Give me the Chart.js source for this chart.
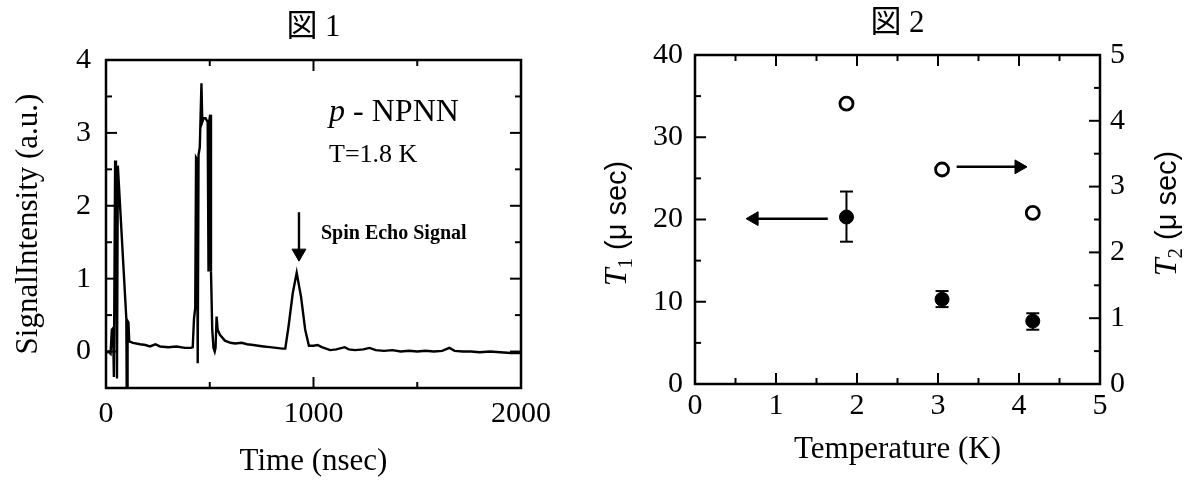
<!DOCTYPE html>
<html lang="ja">
<head>
<meta charset="utf-8">
<title>図1 図2</title>
<script src="https://cdn.jsdelivr.net/npm/chart.js@4.4.1/dist/chart.umd.min.js"></script>
<style>
  html, body { margin: 0; padding: 0; background: #fff; }
  #wrap { position: relative; width: 1196px; height: 482px; overflow: hidden; }
  canvas { position: absolute; top: 0; }
  #c1 { left: 0; }
  #c2 { left: 598px; }
</style>
</head>
<body>
<div id="wrap">
  <canvas id="c1" width="598" height="482"></canvas>
  <canvas id="c2" width="598" height="482"></canvas>
</div>
<script>
// --- 図1: spin echo trace (p-NPNN, T=1.8 K) ---
const timeNs = [0, 12, 22, 28, 34, 38, 44, 48, 53, 57, 60, 98, 100, 102, 104, 108, 112, 130, 164, 190, 212, 238, 260, 300, 340, 380, 410,
  418, 424, 430, 434, 438, 442, 446, 452, 460, 464, 470, 480, 490, 494, 497, 502, 506, 512, 518, 524, 528, 533, 538, 549, 573,
  600, 622, 654, 680, 710, 734, 760, 790, 820, 850, 864, 880, 900, 919, 940, 960, 978, 1000, 1020, 1040, 1080, 1110, 1150, 1170,
  1200, 1240, 1270, 1300, 1340, 1380, 1420, 1460, 1500, 1540, 1580, 1620, 1655, 1680, 1720, 1760, 1800, 1850, 1900, 1950, 2000];
const signal = [-0.02, 0.0, -0.03, 0.3, 0.32, -0.35, 2.62, 2.5, -0.37, 2.55, 2.4, 0.45, -0.7, -0.7, 0.42, 0.4, 0.14, 0.12, 0.1, 0.09, 0.07, 0.1, 0.07, 0.06, 0.07, 0.05, 0.05,
  0.06, 0.45, 0.6, 2.66, 2.64, -0.16, 2.7, 2.8, 3.68, 3.15, 3.2, 3.2, 3.15, 1.1, 3.15, 3.25, 1.1, 0.3, 0.05, 0.0, 0.05, 0.48, 0.3, 0.23, 0.15,
  0.12, 0.11, 0.12, 0.1, 0.09, 0.08, 0.07, 0.06, 0.05, 0.04, 0.04, 0.35, 0.8, 1.08, 0.75, 0.3, 0.08, 0.08, 0.09, 0.06, 0.02, 0.03, 0.06, 0.03,
  0.02, 0.03, 0.05, 0.02, 0.01, 0.02, 0.0, 0.01, 0.0, 0.01, 0.0, 0.01, 0.05, 0.01, 0.0, 0.0, -0.01, 0.0, -0.01, -0.02, -0.02];
// arrow pointing at the echo
const echoArrowT = [930, 930];
const echoArrowV = [1.91, 1.35];

// --- 図2: T1 / T2 vs temperature ---
const tempK = [1.87, 3.05, 4.17];
const t1 = [20.3, 10.3, 7.65];
const t1Lo = [17.3, 9.35, 6.6];
const t1Hi = [23.4, 11.3, 8.6];
const t2 = [4.26, 3.26, 2.6];
const leftArrowT = [1.64, 0.73];
const leftArrowY = [20.1, 20.1];
const rightArrowT = [3.23, 4.0];
const rightArrowY = [26.4, 26.4];

const SERIF = "'Liberation Serif', 'Noto Sans CJK JP', serif";
const SANS = "'Liberation Sans', sans-serif";
Chart.defaults.font.family = SERIF;
Chart.defaults.color = '#000';

// texte composé (italique, indice...) éventuellement tourné
function drawParts(ctx, x, y, parts, rot, align){
  ctx.save();
  ctx.translate(x, y);
  ctx.rotate(rot || 0);
  let w = 0;
  parts.forEach(p => { ctx.font = p.font; w += ctx.measureText(p.text).width; });
  let cx = align === 'left' ? 0 : -w / 2;
  ctx.textBaseline = 'middle';
  ctx.textAlign = 'left';
  ctx.fillStyle = '#000';
  parts.forEach(p => {
    ctx.font = p.font;
    ctx.fillText(p.text, cx, p.dy || 0);
    cx += ctx.measureText(p.text).width;
  });
  ctx.restore();
}

// cadre + graduations vers l'intérieur
const frameTicks = {
  id: 'frameTicks',
  afterDatasetsDraw(chart, args, opts){
    const { ctx, chartArea: a } = chart;
    ctx.save();
    ctx.strokeStyle = '#000';
    ctx.lineWidth = 2.5;
    ctx.strokeRect(a.left, a.top, a.right - a.left, a.bottom - a.top);
    ctx.lineWidth = 2;
    (opts.sides || []).forEach(([id, side]) => {
      const s = chart.scales[id];
      s.ticks.forEach(t => {
        if (t.value === s.min || t.value === s.max) return;
        const p = s.getPixelForValue(t.value);
        const len = t.label !== '' ? 11 : 6;
        ctx.beginPath();
        if (side === 'bottom') { ctx.moveTo(p, a.bottom); ctx.lineTo(p, a.bottom - len); }
        if (side === 'top') { ctx.moveTo(p, a.top); ctx.lineTo(p, a.top + len); }
        if (side === 'left') { ctx.moveTo(a.left, p); ctx.lineTo(a.left + len, p); }
        if (side === 'right') { ctx.moveTo(a.right, p); ctx.lineTo(a.right - len, p); }
        ctx.stroke();
      });
    });
    ctx.restore();
  }
};

const notes1 = {
  id: 'notes1',
  afterDatasetsDraw(chart){
    const { ctx, scales: { x, y } } = chart;
    drawParts(ctx, x.getPixelForValue(1075), y.getPixelForValue(3.28),
      [{ text: 'p', font: 'italic 32px ' + SERIF }, { text: ' - NPNN', font: '32px ' + SERIF }], 0, 'left');
    drawParts(ctx, x.getPixelForValue(1075), y.getPixelForValue(2.69),
      [{ text: 'T=1.8 K', font: '26px ' + SERIF }], 0, 'left');
    drawParts(ctx, x.getPixelForValue(1036), y.getPixelForValue(1.61),
      [{ text: 'Spin Echo Signal', font: 'bold 20px ' + SERIF }], 0, 'left');
  }
};

const labels2 = {
  id: 'labels2',
  afterDraw(chart){
    const { ctx, chartArea: a } = chart;
    const midY = (a.top + a.bottom) / 2;
    drawParts(ctx, 20, midY + 4, [
      { text: 'T', font: 'italic 32px ' + SERIF },
      { text: '1', font: '21px ' + SERIF, dy: 8 },
      { text: ' (\u03bc sec)', font: '29px ' + SANS }
    ], -Math.PI / 2);
    drawParts(ctx, 570, midY - 6, [
      { text: 'T', font: 'italic 32px ' + SERIF },
      { text: '2', font: '21px ' + SERIF, dy: 8 },
      { text: ' (\u03bc sec)', font: '29px ' + SANS }
    ], -Math.PI / 2);
  }
};

const noGrid = { display: false, drawTicks: false };
const noBorder = { display: false };

// 図1
new Chart(document.getElementById('c1'), {
  type: 'line',
  data: {
    datasets: [
      {
        data: timeNs.map((t, i) => ({ x: t, y: signal[i] })),
        borderColor: '#000', borderWidth: 2.4, pointRadius: 0, tension: 0
      },
      {
        data: echoArrowT.map((t, i) => ({ x: t, y: echoArrowV[i] })),
        borderColor: '#000', borderWidth: 2.4,
        pointRadius: [0, 8], pointStyle: 'triangle', pointRotation: 180,
        pointBackgroundColor: '#000', pointBorderColor: '#000', pointBorderWidth: 1
      }
    ]
  },
  options: {
    responsive: false, animation: false, events: [],
    layout: { padding: { left: 0, right: 77, top: 0, bottom: 0 } },
    plugins: {
      legend: { display: false },
      tooltip: { enabled: false },
      title: { display: true, text: '図 1', fullSize: false, color: '#000',
        font: { size: 31, lineHeight: 1, weight: 'normal' }, padding: { top: 12, bottom: 17 } },
      frameTicks: { sides: [['x', 'bottom'], ['x', 'top'], ['y', 'left'], ['y', 'right']] }
    },
    scales: {
      x: {
        type: 'linear', min: 0, max: 2000, grid: noGrid, border: noBorder,
        ticks: { stepSize: 500, padding: 8, autoSkip: false, maxRotation: 0, font: { size: 30 },
          callback: v => v % 1000 === 0 ? String(v) : '' },
        title: { display: true, text: 'Time (nsec)', font: { size: 31 }, padding: { top: 0, bottom: 2 } },
        afterFit: s => { s.height = 94; }
      },
      y: {
        min: -0.5, max: 4, grid: noGrid, border: noBorder,
        ticks: { stepSize: 0.5, padding: 15, autoSkip: false, font: { size: 30 },
          callback: v => Number.isInteger(v) ? String(v) : '' },
        title: { display: true, text: 'SignalIntensity (a.u.)', font: { size: 31 }, padding: { top: 10, bottom: 0 } },
        afterFit: s => { s.width = 106; }
      }
    }
  },
  plugins: [frameTicks, notes1]
});

// 図2
const errorSets = tempK.map((t, i) => ({
  data: [{ x: t, y: t1Lo[i] }, { x: t, y: t1Hi[i] }],
  yAxisID: 'y', showLine: true, borderColor: '#000', borderWidth: 2,
  pointStyle: 'line', pointRadius: 6.5, pointBorderColor: '#000', pointBorderWidth: 2
}));

new Chart(document.getElementById('c2'), {
  type: 'scatter',
  data: {
    datasets: [
      ...errorSets,
      {
        data: tempK.map((t, i) => ({ x: t, y: t1[i] })), yAxisID: 'y',
        pointStyle: 'circle', pointRadius: 7,
        pointBackgroundColor: '#000', pointBorderColor: '#000', pointBorderWidth: 1
      },
      {
        data: tempK.map((t, i) => ({ x: t, y: t2[i] })), yAxisID: 'y2',
        pointStyle: 'circle', pointRadius: 6.5,
        pointBackgroundColor: '#fff', pointBorderColor: '#000', pointBorderWidth: 2.8
      },
      {
        data: leftArrowT.map((t, i) => ({ x: t, y: leftArrowY[i] })), yAxisID: 'y',
        showLine: true, borderColor: '#000', borderWidth: 2.5,
        pointRadius: [0, 8], pointStyle: 'triangle', pointRotation: -90,
        pointBackgroundColor: '#000', pointBorderColor: '#000', pointBorderWidth: 1
      },
      {
        data: rightArrowT.map((t, i) => ({ x: t, y: rightArrowY[i] })), yAxisID: 'y',
        showLine: true, borderColor: '#000', borderWidth: 2.5,
        pointRadius: [0, 8], pointStyle: 'triangle', pointRotation: 90,
        pointBackgroundColor: '#000', pointBorderColor: '#000', pointBorderWidth: 1
      }
    ]
  },
  options: {
    responsive: false, animation: false, events: [],
    layout: { padding: 0 },
    plugins: {
      legend: { display: false },
      tooltip: { enabled: false },
      title: { display: true, text: '図 2', fullSize: false, color: '#000',
        font: { size: 31, lineHeight: 1, weight: 'normal' }, padding: { top: 8, bottom: 16 } },
      frameTicks: { sides: [['x', 'bottom'], ['x', 'top'], ['y', 'left'], ['y2', 'right']] }
    },
    scales: {
      x: {
        type: 'linear', min: 0, max: 5, grid: noGrid, border: noBorder,
        ticks: { stepSize: 0.5, padding: 4, autoSkip: false, maxRotation: 0, font: { size: 30 },
          callback: v => Number.isInteger(v) ? String(v) : '' },
        title: { display: true, text: 'Temperature (K)', font: { size: 31 }, padding: { top: 0, bottom: 14 } },
        afterFit: s => { s.height = 98; }
      },
      y: {
        position: 'left', min: 0, max: 40, grid: noGrid, border: noBorder,
        ticks: { stepSize: 5, padding: 12, autoSkip: false, font: { size: 30 },
          callback: v => v % 10 === 0 ? String(v) : '' },
        afterFit: s => { s.width = 97; }
      },
      y2: {
        position: 'right', min: 0, max: 5, grid: noGrid, border: noBorder,
        ticks: { stepSize: 0.5, padding: 10, autoSkip: false, font: { size: 30 },
          callback: v => Number.isInteger(v) ? String(v) : '' },
        afterFit: s => { s.width = 96; }
      }
    }
  },
  plugins: [frameTicks, labels2]
});
</script>
</body>
</html>
